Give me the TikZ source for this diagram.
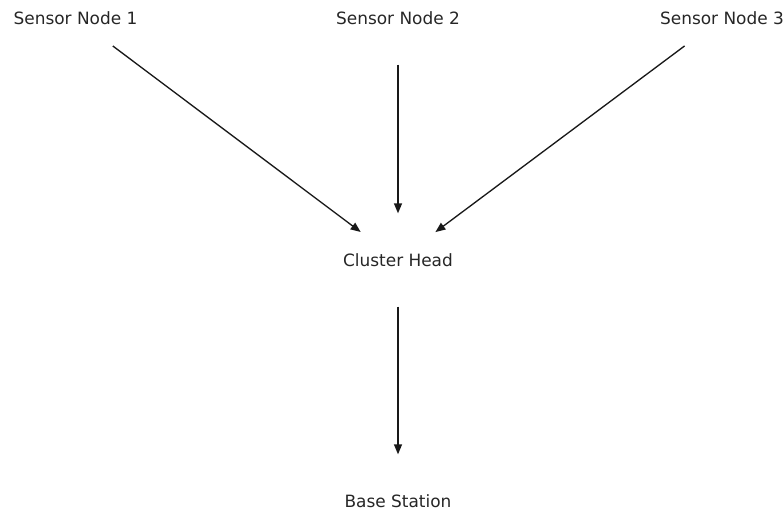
\documentclass[tikz,border=0pt]{standalone}
\usepackage{fontspec}
\setmainfont{DejaVu Sans}
\usetikzlibrary{arrows.meta}
\begin{document}
\begin{tikzpicture}[x=0.75pt,y=-0.75pt,
  lbl/.style={inner sep=0pt, font=\fontsize{12.7pt}{15pt}\selectfont, text=black!85},
  conn/.style={-{Stealth[length=7.5pt,width=6pt,inset=0pt]}, line width=1pt, black!90,
    shorten <=35pt, shorten >=35pt}]
\useasboundingbox (0,0) rectangle (784,510);
\node[lbl] (s1) at (75.5,18) {Sensor Node 1};
\node[lbl] (s2) at (398,18) {Sensor Node 2};
\node[lbl] (s3) at (722,18) {Sensor Node 3};
\node[lbl] (ch) at (398,260) {Cluster Head};
\node[lbl] (bs) at (398,501) {Base Station};
\draw[conn] (s1.center) -- (ch.center);
\draw[conn] (s2.center) -- (ch.center);
\draw[conn] (s3.center) -- (ch.center);
\draw[conn] (ch.center) -- (bs.center);
\end{tikzpicture}
\end{document}
